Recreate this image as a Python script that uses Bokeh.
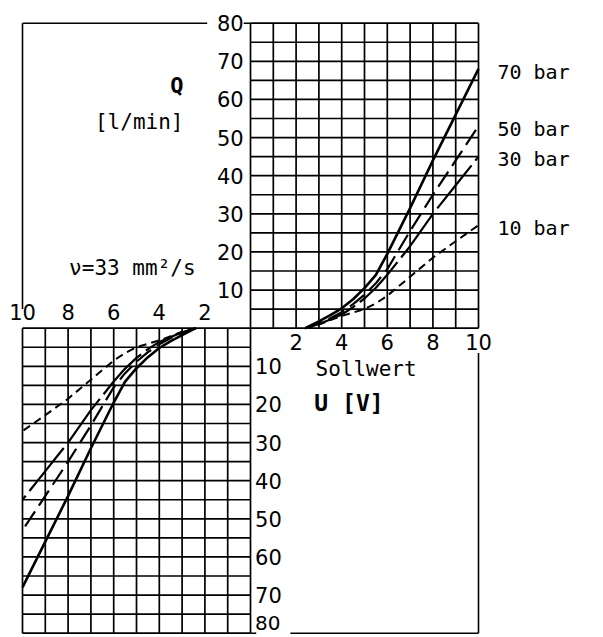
from bokeh.plotting import figure
from bokeh.models import Range1d
from bokeh.core.properties import value
from bokeh.embed import file_html
from bokeh.resources import INLINE

# ---- data ----
u_vals = [2.4, 3.0, 3.5, 4.0, 4.5, 5.0, 5.5, 6.0, 7.0, 8.0, 9.0, 10.0]
q70 = [0.0, 1.8, 3.4, 5.2, 7.6, 10.5, 14.0, 19.5, 31.5, 44.0, 56.0, 68.0]
q50 = [0.0, 1.2, 2.6, 4.2, 6.3, 8.8, 11.8, 15.5, 25.5, 35.0, 44.0, 53.0]
q30 = [0.0, 1.1, 2.3, 3.6, 5.5, 7.8, 10.6, 14.0, 21.5, 30.0, 37.5, 45.0]
q10 = [0.0, 0.9, 2.1, 3.2, 4.1, 5.0, 6.5, 8.5, 13.5, 18.5, 22.8, 27.0]
series_labels = ["70 bar", "50 bar", "30 bar", "10 bar"]
u_ticks = [2, 4, 6, 8, 10]
q_ticks = [10, 20, 30, 40, 50, 60, 70, 80]
U_MAX = 10
Q_MAX = 80
Q_STEP = 5

FONT = value("DejaVu Sans")
MONO = value("DejaVu Sans Mono")

p = figure(width=598, height=636, output_backend="svg", toolbar_location=None,
           x_range=Range1d(-10.965, 15.263), y_range=Range1d(-80.87, 85.95),
           x_axis_location=None, y_axis_location=None, min_border=0)
p.xgrid.visible = False
p.ygrid.visible = False
p.outline_line_color = None

# ---- grids (upper right and mirrored lower left) ----
for sgn in (1, -1):
    xs0, ys0, xs1, ys1 = [], [], [], []
    for u in range(0, U_MAX + 1):
        xs0.append(sgn * u); ys0.append(0); xs1.append(sgn * u); ys1.append(sgn * Q_MAX)
    for q in range(0, Q_MAX + 1, Q_STEP):
        xs0.append(0); ys0.append(sgn * q); xs1.append(sgn * U_MAX); ys1.append(sgn * q)
    p.segment(x0=xs0, y0=ys0, x1=xs1, y1=ys1, line_color="black", line_width=1.7)

# ---- frame of the empty quadrants ----
fr_x0 = [-U_MAX, -U_MAX, -0.3, U_MAX, 1.75, 0.0]
fr_y0 = [Q_MAX, Q_MAX, Q_MAX, -6.5, -Q_MAX, -Q_MAX]
fr_x1 = [-1.9, -U_MAX, 0.0, U_MAX, U_MAX, 0.25]
fr_y1 = [Q_MAX, 5.0, Q_MAX, -Q_MAX, -Q_MAX, -Q_MAX]
p.segment(x0=fr_x0, y0=fr_y0, x1=fr_x1, y1=fr_y1, line_color="black", line_width=1.6)

# ---- curves ----
styles = [
    (q70, "solid", 2.6),
    (q50, "18 7", 2.2),
    (q30, "55 6", 2.2),
    (q10, "8 5", 2.0),
]
for q, dash, lw in styles:
    p.line(u_vals, q, line_color="black", line_width=lw, line_dash=dash)
    p.line([-u for u in u_vals], [-v for v in q], line_color="black", line_width=lw, line_dash=dash)

# ---- series labels ----
ends = [q70[-1], q50[-1], q30[-1], q10[-1]]
p.text(x=[10.83] * 4, y=[e - 0.7 for e in ends], text=series_labels,
       text_font=MONO, text_font_size="20px", text_baseline="middle", text_align="left",
       text_color="black")

# ---- tick labels ----
p.text(x=[-0.3] * len(q_ticks), y=q_ticks, text=[str(t) for t in q_ticks],
       text_font=FONT, text_font_size="21px", text_baseline="middle", text_align="right")
p.text(x=[0.2] * (len(q_ticks) - 1), y=[-t for t in q_ticks[:-1]], text=[str(t) for t in q_ticks[:-1]],
       text_font=FONT, text_font_size="21px", text_baseline="middle", text_align="left")
p.text(x=[0.2], y=[-q_ticks[-1]], text=[str(q_ticks[-1])], y_offset=-10,
       text_font=FONT, text_font_size="20px", text_baseline="middle", text_align="left")
p.text(x=u_ticks, y=[-3.5] * len(u_ticks), text=[str(t) for t in u_ticks],
       text_font=FONT, text_font_size="21px", text_baseline="middle", text_align="center")
p.text(x=[-t for t in u_ticks], y=[4.2] * len(u_ticks), text=[str(t) for t in u_ticks],
       text_font=FONT, text_font_size="21px", text_baseline="middle", text_align="center")

# ---- axis titles / annotation ----
p.text(x=[-2.94], y=[63.7], text=["Q"], text_font=MONO, text_font_size="22px",
       text_baseline="middle", text_align="right", text_font_style="bold")
p.text(x=[-2.94], y=[54.0], text=["[l/min]"], text_font=MONO, text_font_size="21px",
       text_baseline="middle", text_align="right")
p.text(x=[-2.41], y=[15.9], text=["ν=33 mm²/s"], text_font=MONO, text_font_size="21px",
       text_baseline="middle", text_align="right")
p.text(x=[2.85], y=[-10.6], text=["Sollwert"], text_font=MONO, text_font_size="21px",
       text_baseline="middle", text_align="left")
p.text(x=[2.8], y=[-19.5], text=["U [V]"], text_font=MONO, text_font_size="23px",
       text_baseline="middle", text_align="left", text_font_style="bold")

open("out.html", "w").write(file_html(p, INLINE))
